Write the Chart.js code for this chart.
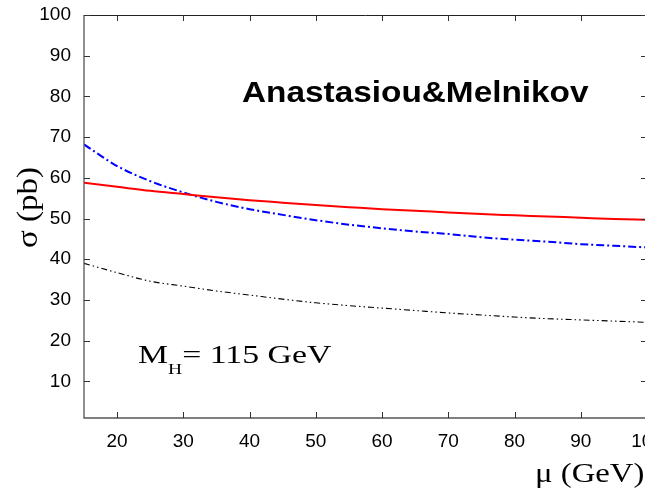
<!DOCTYPE html>
<html>
<head>
<meta charset="utf-8">
<script src="https://cdn.jsdelivr.net/npm/chart.js@4.4.1/dist/chart.umd.min.js"></script>
<style>
  html, body { margin: 0; padding: 0; background: #fff; overflow: hidden; }
  #wrap { position: absolute; left: 0; top: 0; width: 645px; height: 489px; overflow: hidden; }
  canvas { position: absolute; left: 0; top: 0; }
</style>
</head>
<body>
<div id="wrap"><canvas id="chart" width="652" height="489"></canvas></div>
<script>
// ── Data ────────────────────────────────────
const MU = [15, 20, 25, 30, 35, 40, 45, 50, 55, 60, 65, 70, 75, 80, 85, 90, 95, 100];
const SIGMA_RED = [58.8, 57.8, 56.8, 56.0, 55.2, 54.5, 53.9, 53.3, 52.8, 52.3, 51.9, 51.5, 51.1, 50.8, 50.5, 50.2, 49.9, 49.7];
const SIGMA_BLUE = [68.2, 62.9, 59.2, 56.4, 54.1, 52.3, 50.9, 49.6, 48.5, 47.6, 46.8, 46.2, 45.4, 44.8, 44.3, 43.7, 43.3, 42.9];
const SIGMA_BLACK = [39.0, 36.7, 34.6, 33.4, 32.2, 31.2, 30.2, 29.3, 28.6, 28.0, 27.4, 26.8, 26.3, 25.8, 25.4, 25.1, 24.8, 24.5];
const X_TICKS = [20, 30, 40, 50, 60, 70, 80, 90, 100];
const Y_TICKS = [10, 20, 30, 40, 50, 60, 70, 80, 90, 100];

const SANS = '"Liberation Sans", Arial, sans-serif';
const SERIF = '"Liberation Serif", "Times New Roman", serif';
const AXIS_COLOR = '#555';

function pts(ys) { return MU.map((x, i) => ({ x, y: ys[i] })); }

// ── Frame + inward ticks + free text ────────
const framePlugin = {
    id: 'frame',
    afterDraw(chart) {
        const { ctx, chartArea: a, scales } = chart;
        const xs = scales.x, ys = scales.y;
        ctx.save();
        ctx.lineWidth = 1.3;
        ctx.strokeStyle = AXIS_COLOR;
        ctx.beginPath();
        ctx.moveTo(a.left, a.top); ctx.lineTo(a.left, a.bottom); ctx.lineTo(a.right, a.bottom);
        ctx.stroke();
        ctx.strokeStyle = '#222';
        ctx.lineWidth = 1;
        ctx.beginPath();
        ctx.moveTo(a.left, a.top + 0.5); ctx.lineTo(a.right, a.top + 0.5); ctx.lineTo(a.right, a.bottom);
        ctx.stroke();

        ctx.strokeStyle = '#333';
        ctx.lineWidth = 1;
        ctx.beginPath();
        X_TICKS.forEach(v => {
            const px = Math.round(xs.getPixelForValue(v)) + 0.5;
            ctx.moveTo(px, a.bottom); ctx.lineTo(px, a.bottom - 6);
            ctx.moveTo(px, a.top); ctx.lineTo(px, a.top + 6);
        });
        Y_TICKS.forEach(v => {
            const py = Math.round(ys.getPixelForValue(v)) + 0.5;
            ctx.moveTo(a.left, py); ctx.lineTo(a.left + 6, py);
            ctx.moveTo(a.right, py); ctx.lineTo(a.right - 6, py);
        });
        ctx.stroke();

        ctx.fillStyle = '#000';
        ctx.textBaseline = 'alphabetic';
        ctx.textAlign = 'left';

        // label in the plot
        ctx.save();
        ctx.translate(242, 102);
        ctx.scale(1.15, 1);
        ctx.font = 'bold 29px ' + SANS;
        ctx.fillText('Anastasiou&Melnikov', 0, 0);
        ctx.restore();

        // M_H = 115 GeV
        ctx.save();
        ctx.translate(138, 363);
        ctx.scale(1.3, 1);
        ctx.font = '26px ' + SERIF;
        ctx.fillText('M', 0, 0);
        let w = ctx.measureText('M').width;
        ctx.font = '15px ' + SERIF;
        ctx.fillText('H', w, 11);
        w += ctx.measureText('H').width;
        ctx.font = '26px ' + SERIF;
        ctx.fillText('= 115 GeV', w, 0);
        ctx.restore();

        // x title
        ctx.save();
        ctx.translate(535, 482);
        ctx.scale(1.17, 1);
        ctx.font = '28px ' + SERIF;
        ctx.fillText('\u03bc (GeV)', 0, 0);
        ctx.restore();

        // y title
        ctx.save();
        ctx.translate(37, 248);
        ctx.rotate(-Math.PI / 2);
        ctx.scale(1.1, 1);
        ctx.font = '30px ' + SERIF;
        ctx.fillText('\u03c3 (pb)', 0, 0);
        ctx.restore();

        ctx.restore();
    },
};

const datasets = [
    {
        label: 'red', data: pts(SIGMA_RED),
        borderColor: '#ff0000', borderWidth: 2, pointRadius: 0, cubicInterpolationMode: 'monotone',
    },
    {
        label: 'blue', data: pts(SIGMA_BLUE),
        borderColor: '#0000ff', borderWidth: 2, borderDash: [8, 3, 2, 3], pointRadius: 0, cubicInterpolationMode: 'monotone',
    },
    {
        label: 'black', data: pts(SIGMA_BLACK),
        borderColor: '#000', borderWidth: 1.1, borderDash: [6, 3, 1.5, 3, 1.5, 3], pointRadius: 0, cubicInterpolationMode: 'monotone',
    },
];

new Chart(document.getElementById('chart'), {
    type: 'line',
    data: { datasets },
    options: {
        responsive: false,
        animation: false,
        events: [],
        layout: { padding: { left: 0, right: 5, top: 15, bottom: 0 } },
        plugins: { legend: { display: false }, tooltip: { enabled: false } },
        scales: {
            x: {
                type: 'linear', min: 15, max: 100,
                grid: { display: false, drawTicks: false },
                border: { display: false },
                ticks: { stepSize: 10, color: '#000', padding: 12, maxRotation: 0, autoSkip: false, font: { family: SANS, size: 19 } },
                afterBuildTicks: s => { s.ticks = X_TICKS.map(v => ({ value: v })); },
                afterFit: s => { s.height = 71; s.paddingLeft = 0; s.paddingRight = 0; },
            },
            y: {
                min: 1, max: 100,
                grid: { display: false, drawTicks: false },
                border: { display: false },
                ticks: { stepSize: 10, color: '#000', padding: 13, font: { family: SANS, size: 19 } },
                afterBuildTicks: s => { s.ticks = Y_TICKS.map(v => ({ value: v })); },
                afterFit: s => { s.width = 84; s.paddingTop = 0; s.paddingBottom = 0; },
            },
        },
    },
    plugins: [framePlugin],
});
</script>
</body>
</html>
